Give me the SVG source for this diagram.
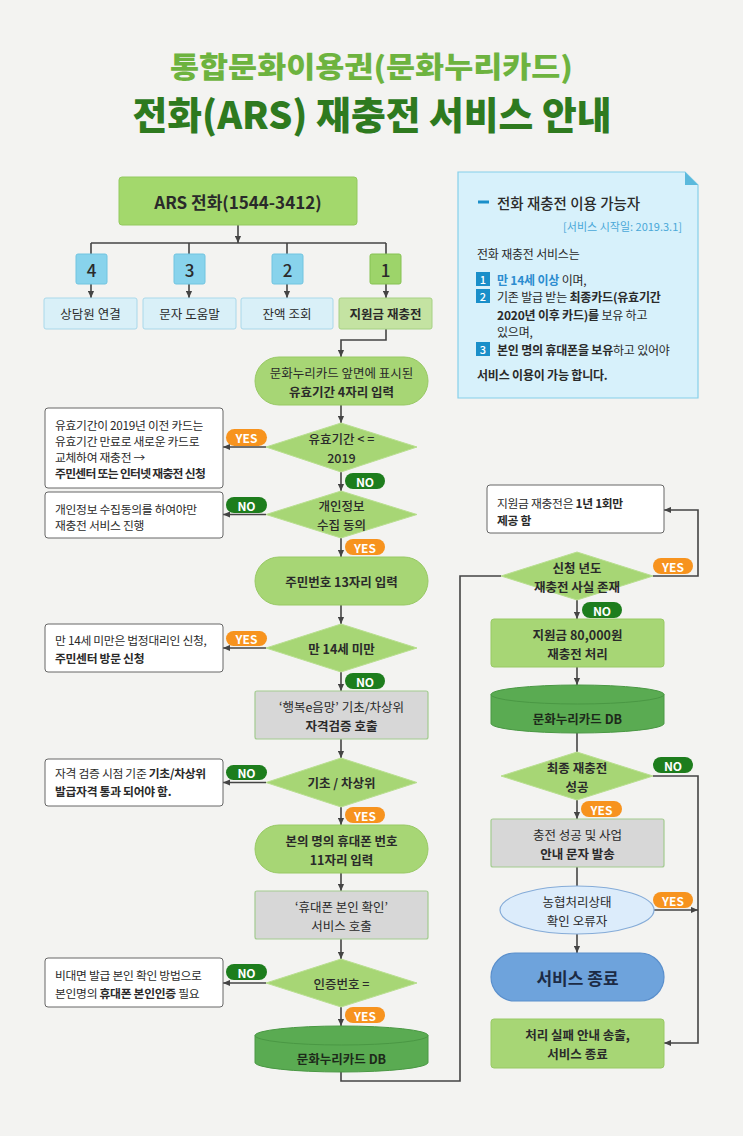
<svg xmlns="http://www.w3.org/2000/svg" width="743" height="1136" viewBox="0 0 743 1136">
<defs>
<marker id="arr" viewBox="0 0 8 8" refX="8" refY="4" markerWidth="7" markerHeight="7" markerUnits="userSpaceOnUse" orient="auto"><path d="M0,0.5 L8,4 L0,7.5 z" fill="#444"/></marker>
<style>
text{font-family:"Noto Sans CJK KR","Noto Sans",sans-serif;fill:#2a2a2a;}
.t{font-size:12.5px;text-anchor:middle;dominant-baseline:central;}
.n{font-size:11.8px;dominant-baseline:central;letter-spacing:-0.3px;}
.b{font-weight:700;}
.m{font-weight:500;}
.stad{fill:#a7d675;stroke:#98c965;stroke-width:1;}
.dia{fill:#a7d675;stroke:#b9df90;stroke-width:1;}
.gray{fill:#d7d7d7;stroke:#a3cb90;stroke-width:1.2;}
.gbox{fill:#a7d675;stroke:#98c965;stroke-width:1;}
.note{fill:#ffffff;stroke:#666;stroke-width:1;}
.db{fill:#5aab52;stroke:#4a9844;stroke-width:1;}
.numb{fill:#88d3ec;stroke:#70c4e0;stroke-width:1;}
.lblb{fill:#d9f0f8;stroke:#a9d8ea;stroke-width:1;}
.yes{fill:#f7931e;}
.no{fill:#1d7d1d;}
.bt{font-size:12px;font-weight:700;fill:#fff;text-anchor:middle;dominant-baseline:central;}
.c{fill:none;stroke:#444;stroke-width:1.6;}
.ca{fill:none;stroke:#444;stroke-width:1.6;marker-end:url(#arr);}
.info{font-size:12px;dominant-baseline:central;letter-spacing:-0.2px;}
.sq{fill:#1a8fc9;}
.sqt{font-size:11px;fill:#fff;text-anchor:middle;dominant-baseline:central;font-weight:500;}
</style>
</defs>
<rect x="0" y="0" width="743" height="1136" fill="#f3f3f1"/>

<g id="title">
<text x="371.5" y="78" text-anchor="middle" font-size="29" font-weight="900" textLength="403" lengthAdjust="spacingAndGlyphs" style="fill:#6db33f">통합문화이용권(문화누리카드)</text>
<text x="372" y="129" text-anchor="middle" font-size="38" font-weight="900" textLength="479" lengthAdjust="spacingAndGlyphs" style="fill:#2e7a1f">전화(ARS) 재충전 서비스 안내</text>
</g>

<g id="connectors">
<path class="ca" d="M238,225 V243"/>
<path class="c" d="M91,243 H386"/>
<path class="c" d="M91,243 V254 M189,243 V254 M287,243 V254 M386,243 V254"/>
<path class="ca" d="M91,284 V298"/>
<path class="ca" d="M189,284 V298"/>
<path class="ca" d="M287,284 V298"/>
<path class="ca" d="M386,284 V298"/>
<path class="ca" d="M386,329 V340 H341 V357"/>
<path class="ca" d="M341,405 V423"/>
<path class="ca" d="M266,447 H223"/>
<path class="ca" d="M341,472 V491"/>
<path class="ca" d="M266,514.5 H223"/>
<path class="ca" d="M341,538 V557"/>
<path class="ca" d="M341,605 V624"/>
<path class="ca" d="M266,648 H223"/>
<path class="ca" d="M341,672 V691"/>
<path class="ca" d="M341,739 V758"/>
<path class="ca" d="M266,782.5 H223"/>
<path class="ca" d="M341,807 V825"/>
<path class="ca" d="M341,873 V891"/>
<path class="ca" d="M341,939 V959"/>
<path class="ca" d="M266,983 H223"/>
<path class="ca" d="M341,1007 V1026"/>
<path class="c" d="M341,1072 V1081 H460 V576 H501"/>
<path class="ca" d="M653,576 H698 V510 H664"/>
<path class="ca" d="M577,600 V619"/>
<path class="ca" d="M577,667 V685"/>
<path class="c" d="M577,733 V752"/>
<path class="ca" d="M653,776 H698 V1043 H664"/>
<path class="ca" d="M577,800 V819"/>
<path class="c" d="M577,867 V886"/>
<path class="ca" d="M654,910 H698"/>
<path class="ca" d="M577,934 V953"/>
</g>

<g id="ars">
<rect x="119" y="177" width="238" height="48" rx="3" fill="#a3d86c" stroke="#93c95e"/>
<text x="238" y="201" class="t b" style="font-size:17px">ARS 전화(1544-3412)</text>
</g>

<g id="opt4"><rect class="numb" x="76" y="254" width="31" height="30" rx="2"/><text x="91.5" y="269" class="t m" style="font-size:17px">4</text></g>
<g id="opt3"><rect class="numb" x="174" y="254" width="31" height="30" rx="2"/><text x="189.5" y="269" class="t m" style="font-size:17px">3</text></g>
<g id="opt2"><rect class="numb" x="272" y="254" width="31" height="30" rx="2"/><text x="287.5" y="269" class="t m" style="font-size:17px">2</text></g>
<g id="opt1"><rect x="370" y="254" width="31" height="30" rx="2" fill="#9dd46a" stroke="#86c252"/><text x="385.5" y="269" class="t m" style="font-size:17px">1</text></g>

<g id="lbl4"><rect class="lblb" x="44" y="298" width="93" height="31" rx="2"/><text x="90.5" y="313.5" class="t">상담원 연결</text></g>
<g id="lbl3"><rect class="lblb" x="143" y="298" width="93" height="31" rx="2"/><text x="189.5" y="313.5" class="t">문자 도움말</text></g>
<g id="lbl2"><rect class="lblb" x="241" y="298" width="92" height="31" rx="2"/><text x="287" y="313.5" class="t">잔액 조회</text></g>
<g id="lbl1"><rect x="339" y="298" width="93" height="31" rx="2" fill="#c4e3a2" stroke="#a6d184"/><text x="385.5" y="313.5" class="t b">지원금 재충전</text></g>

<g id="info">
<path d="M458,172 H685 L698,185 V398 H458 Z" fill="#d7f1fb" stroke="#86d0ea" stroke-width="1.2"/>
<path d="M685,172 L698,185 H685 Z" fill="#5ab9dc"/>
<rect x="478" y="200.5" width="11" height="3" fill="#1a8fc9"/>
<text x="497" y="202" style="font-size:14.5px;dominant-baseline:central;font-weight:500">전화 재충전 이용 가능자</text>
<text x="682" y="226" text-anchor="end" style="font-size:11px;dominant-baseline:central;fill:#4aa8d8">[서비스 시작일: 2019.3.1]</text>
<text x="477" y="253" class="info">전화 재충전 서비스는</text>
<rect class="sq" x="476" y="272" width="14" height="14"/><text x="483" y="279" class="sqt">1</text>
<text x="497" y="279" class="info"><tspan class="b" style="fill:#2b8ccf">만 14세 이상</tspan> 이며,</text>
<rect class="sq" x="476" y="289" width="14" height="14"/><text x="483" y="296" class="sqt">2</text>
<text x="497" y="296" class="info">기존 발급 받는 <tspan class="b">최종카드(유효기간</tspan></text>
<text x="497" y="314" class="info"><tspan class="b">2020년 이후 카드)를</tspan> 보유 하고</text>
<text x="497" y="331" class="info">있으며,</text>
<rect class="sq" x="476" y="342" width="14" height="14"/><text x="483" y="349" class="sqt">3</text>
<text x="497" y="349" class="info"><tspan class="b">본인 명의 휴대폰을 보유</tspan>하고 있어야</text>
<text x="477" y="374" class="info b">서비스 이용이 가능 합니다.</text>
</g>

<g id="s_validity">
<rect class="stad" x="255" y="357" width="173" height="48" rx="24"/>
<text x="341.5" y="372" class="t">문화누리카드 앞면에 표시된</text>
<text x="341.5" y="391" class="t b">유효기간 4자리 입력</text>
</g>

<g id="d_validity">
<polygon class="dia" points="341,423 417,447 341,472 266,447"/>
<text x="341.5" y="438" class="t m">유효기간 &lt; =</text>
<text x="341.5" y="457" class="t m">2019</text>
</g>
<g id="n_validity">
<rect class="note" x="45" y="408" width="178" height="80" rx="3"/>
<text x="55" y="424" class="n">유효기간이 2019년 이전 카드는</text>
<text x="55" y="440" class="n">유효기간 만료로 새로운 카드로</text>
<text x="55" y="456" class="n">교체하여 재충전 →</text>
<text x="55" y="472" class="n b" style="letter-spacing:-0.7px">주민센터 또는 인터넷 재충전 신청</text>
</g>
<g id="b1"><rect class="yes" x="226" y="429" width="41" height="17" rx="8.5"/><text x="246.5" y="437.5" class="bt">YES</text></g>
<g id="b2"><rect class="no" x="345" y="473" width="40" height="16" rx="8"/><text x="365" y="481" class="bt">NO</text></g>

<g id="d_consent">
<polygon class="dia" points="341,491 417,514.5 341,538 266,514.5"/>
<text x="341.5" y="505" class="t m">개인정보</text>
<text x="341.5" y="524" class="t m">수집 동의</text>
</g>
<g id="n_consent">
<rect class="note" x="45" y="492" width="178" height="46" rx="3"/>
<text x="55" y="508" class="n">개인정보 수집동의를 하여야만</text>
<text x="55" y="524" class="n">재충전 서비스 진행</text>
</g>
<g id="b3"><rect class="no" x="226" y="497" width="41" height="16" rx="8"/><text x="246.5" y="505" class="bt">NO</text></g>
<g id="b4"><rect class="yes" x="345" y="539" width="40" height="16" rx="8"/><text x="365" y="547" class="bt">YES</text></g>

<g id="s_rrn">
<rect class="stad" x="255" y="557" width="173" height="48" rx="24"/>
<text x="341.5" y="581" class="t b">주민번호 13자리 입력</text>
</g>

<g id="d_age">
<polygon class="dia" points="341,624 417,648 341,672 266,648"/>
<text x="341.5" y="648" class="t b">만 14세 미만</text>
</g>
<g id="n_age">
<rect class="note" x="45" y="624" width="178" height="48" rx="3"/>
<text x="55" y="639" class="n">만 14세 미만은 법정대리인 신청,</text>
<text x="55" y="657" class="n b">주민센터 방문 신청</text>
</g>
<g id="b5"><rect class="yes" x="226" y="631" width="41" height="15" rx="7.5"/><text x="246.5" y="638.5" class="bt">YES</text></g>
<g id="b6"><rect class="no" x="345" y="673" width="40" height="16" rx="8"/><text x="365" y="681" class="bt">NO</text></g>

<g id="g_welfare">
<rect class="gray" x="255" y="691" width="173" height="48" rx="2"/>
<text x="341.5" y="706" class="t">‘행복e음망’ 기초/차상위</text>
<text x="341.5" y="725" class="t b">자격검증 호출</text>
</g>

<g id="d_basic">
<polygon class="dia" points="341,758 417,782.5 341,807 266,782.5"/>
<text x="341.5" y="782.5" class="t b">기초 / 차상위</text>
</g>
<g id="n_basic">
<rect class="note" x="45" y="759" width="178" height="47" rx="3"/>
<text x="55" y="772" class="n">자격 검증 시점 기준 <tspan class="b">기초/차상위</tspan></text>
<text x="55" y="790" class="n b">발급자격 통과 되어야 함.</text>
</g>
<g id="b7"><rect class="no" x="226" y="765" width="41" height="15" rx="7.5"/><text x="246.5" y="772.5" class="bt">NO</text></g>
<g id="b8"><rect class="yes" x="345" y="807" width="40" height="16" rx="8"/><text x="365" y="815" class="bt">YES</text></g>

<g id="s_phone">
<rect class="stad" x="255" y="825" width="173" height="48" rx="24"/>
<text x="341.5" y="840" class="t b">본의 명의 휴대폰 번호</text>
<text x="341.5" y="859" class="t b">11자리 입력</text>
</g>

<g id="g_phonecheck">
<rect class="gray" x="255" y="891" width="173" height="48" rx="2"/>
<text x="341.5" y="906" class="t">‘휴대폰 본인 확인’</text>
<text x="341.5" y="925" class="t">서비스 호출</text>
</g>

<g id="d_code">
<polygon class="dia" points="341,959 417,983 341,1007 266,983"/>
<text x="341.5" y="983" class="t m">인증번호 =</text>
</g>
<g id="n_code">
<rect class="note" x="45" y="958" width="178" height="49" rx="3"/>
<text x="55" y="974" class="n">비대면 발급 본인 확인 방법으로</text>
<text x="55" y="992" class="n">본인명의 <tspan class="b">휴대폰 본인인증</tspan> 필요</text>
</g>
<g id="b9"><rect class="no" x="226" y="964" width="41" height="16" rx="8"/><text x="246.5" y="972" class="bt">NO</text></g>
<g id="b10"><rect class="yes" x="345" y="1007" width="40" height="16" rx="8"/><text x="365" y="1015" class="bt">YES</text></g>

<g id="db1">
<path class="db" d="M255,1035.5 V1062.5 A86.5,9.5 0 0 0 428,1062.5 V1035.5"/>
<ellipse class="db" cx="341.5" cy="1035.5" rx="86.5" ry="9.5"/>
<text x="341.5" y="1058" class="t" style="font-weight:600;fill:#1d2a1a">문화누리카드 DB</text>
</g>

<g id="n_once">
<rect class="note" x="487" y="485" width="177" height="48" rx="3"/>
<text x="497" y="502" class="n">지원금 재충전은 <tspan class="b">1년 1회만</tspan></text>
<text x="497" y="519" class="n b">제공 함</text>
</g>

<g id="d_year">
<polygon class="dia" points="577,552 653,576 577,600 501,576"/>
<text x="577" y="567" class="t b">신청 년도</text>
<text x="577" y="586" class="t b">재충전 사실 존재</text>
</g>
<g id="b11"><rect class="yes" x="653" y="558" width="40" height="16" rx="8"/><text x="673" y="566" class="bt">YES</text></g>
<g id="b12"><rect class="no" x="582" y="602" width="40" height="16" rx="8"/><text x="602" y="610" class="bt">NO</text></g>

<g id="g_charge">
<rect class="gbox" x="491" y="619" width="173" height="48" rx="3"/>
<text x="577.5" y="634" class="t b">지원금 80,000원</text>
<text x="577.5" y="653" class="t b">재충전 처리</text>
</g>

<g id="db2">
<path class="db" d="M491,694.5 V723.5 A86.5,9.5 0 0 0 664,723.5 V694.5"/>
<ellipse class="db" cx="577.5" cy="694.5" rx="86.5" ry="9.5"/>
<text x="577.5" y="718" class="t" style="font-weight:600;fill:#1d2a1a">문화누리카드 DB</text>
</g>

<g id="d_final">
<polygon class="dia" points="577,752 653,776 577,800 501,776"/>
<text x="577" y="767" class="t b">최종 재충전</text>
<text x="577" y="786" class="t b">성공</text>
</g>
<g id="b13"><rect class="no" x="653" y="757" width="40" height="16" rx="8"/><text x="673" y="765" class="bt">NO</text></g>
<g id="b14"><rect class="yes" x="581" y="801" width="41" height="16" rx="8"/><text x="601.5" y="809" class="bt">YES</text></g>

<g id="g_sms">
<rect class="gray" x="491" y="819" width="173" height="48" rx="2"/>
<text x="577.5" y="834" class="t">충전 성공 및 사업</text>
<text x="577.5" y="853" class="t b">안내 문자 발송</text>
</g>

<g id="e_nh">
<ellipse cx="577" cy="910" rx="77" ry="24" fill="#dcecfb" stroke="#86acd8" stroke-width="1.2"/>
<text x="577" y="901" class="t">농협처리상태</text>
<text x="577" y="920" class="t">확인 오류자</text>
</g>
<g id="b15"><rect class="yes" x="653" y="892" width="40" height="16" rx="8"/><text x="673" y="900" class="bt">YES</text></g>

<g id="s_end">
<rect x="491" y="953" width="173" height="48" rx="24" fill="#6ea3dc" stroke="#5a8fcc" stroke-width="1.2"/>
<text x="577.5" y="977" class="t b" style="font-size:17px;fill:#1c2b45">서비스 종료</text>
</g>

<g id="g_fail">
<rect class="gbox" x="491" y="1019" width="173" height="49" rx="3"/>
<text x="577.5" y="1034" class="t b">처리 실패 안내 송출,</text>
<text x="577.5" y="1053" class="t b">서비스 종료</text>
</g>
</svg>
